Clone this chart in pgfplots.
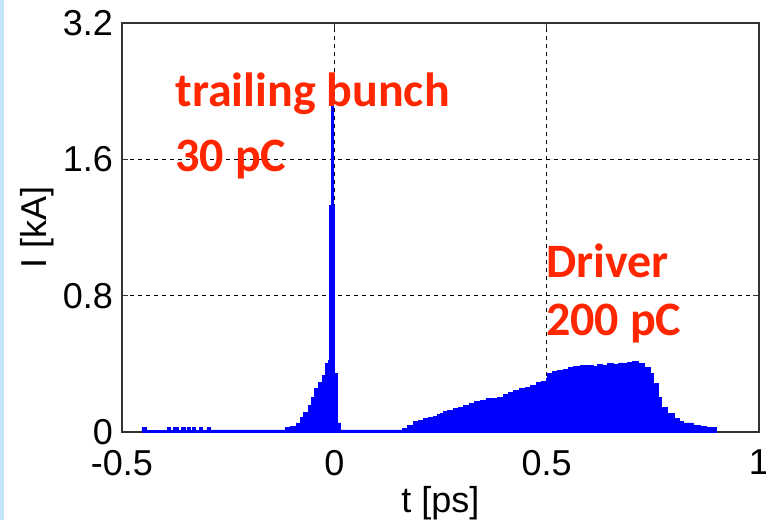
\documentclass[border=0pt]{standalone}
\usepackage{fontspec}
\setmainfont{Liberation Sans}
\newfontfamily\calibri{Carlito}
\usepackage{pgfplots}
\pgfplotsset{compat=1.18}

\definecolor{annot}{RGB}{255,38,0}
\definecolor{slide}{RGB}{196,230,250}

\begin{document}
\begin{tikzpicture}
% page frame: same size as the reference (766x520 px at 2 px per pt)
\useasboundingbox (-61pt,-44pt) rectangle (322pt,216pt);
\fill[slide] (-61pt,-44pt) rectangle (-59pt,216pt);
\begin{axis}[
    scale only axis,
    width=318.5pt, height=204.5pt,
    xmin=-0.5, xmax=1, ymin=0, ymax=2.4,
    xtick={-0.5,0,0.5,1},
    xticklabels={-0.5,0,0.5,1},
    ytick={0,0.8,1.6,2.4},
    yticklabels={0,0.8,1.6,3.2},
    tick align=inside,
    major tick length=3pt,
    tick style={black!80, line width=0.6pt},
    axis line style={black!80, line width=0.8pt},
    grid=major,
    grid style={black, line width=0.6pt, dash pattern=on 2pt off 2pt},
    ticklabel style={font=\fontsize{18}{20}\selectfont},
    xticklabel style={yshift=-5.5pt},
    yticklabel style={xshift=-1pt},
    every axis x label/.style={at={(rel axis cs:0.5,0)}, anchor=center,
        yshift=-35.5pt, font=\fontsize{18}{20}\selectfont},
    % rotated label: yshift moves it left in the page frame
    every axis y label/.style={at={(rel axis cs:0,0.5)}, rotate=90, anchor=center,
        yshift=42.5pt, font=\fontsize{18}{20}\selectfont},
    xlabel={t [ps]},
    ylabel={I [kA]},
    clip=false,
]
% current profile (x in ps, y in kA)
\addplot[draw=blue, fill=blue, line width=0.4pt, const plot mark left] coordinates {
    (-0.453,0.025) (-0.443,0.010) (-0.394,0.025) (-0.387,0.010) (-0.380,0.025)
    (-0.368,0.010) (-0.359,0.025) (-0.351,0.010) (-0.347,0.025) (-0.340,0.010)
    (-0.335,0.025) (-0.328,0.010) (-0.318,0.025) (-0.311,0.010) (-0.300,0.025)
    (-0.292,0.012)
    (-0.116,0.029) (-0.104,0.035) (-0.090,0.053) (-0.080,0.088) (-0.073,0.117)
    (-0.061,0.158) (-0.054,0.204) (-0.047,0.257) (-0.038,0.292) (-0.028,0.333)
    (-0.021,0.403) (-0.014,0.420) (-0.0106,1.331) (-0.0071,1.909) (-0.0024,1.331)
    (0.000,0.344) (0.0071,0.053) (0.0142,0.012)
    (0.160,0.023) (0.172,0.041) (0.186,0.064) (0.198,0.070) (0.210,0.082)
    (0.222,0.088) (0.233,0.093) (0.242,0.105) (0.250,0.111) (0.258,0.120)
    (0.267,0.128) (0.280,0.140) (0.292,0.146) (0.304,0.158) (0.318,0.170)
    (0.331,0.181) (0.344,0.187) (0.357,0.199) (0.370,0.196) (0.384,0.204)
    (0.398,0.222) (0.410,0.234) (0.422,0.245) (0.436,0.257) (0.450,0.263)
    (0.462,0.274) (0.475,0.292) (0.488,0.298) (0.500,0.315) (0.502,0.345)
    (0.514,0.356) (0.526,0.362) (0.540,0.368) (0.552,0.380) (0.564,0.385)
    (0.580,0.391) (0.597,0.391) (0.610,0.385) (0.620,0.397) (0.632,0.391)
    (0.644,0.403) (0.658,0.397) (0.670,0.405) (0.680,0.403) (0.691,0.409)
    (0.703,0.415) (0.715,0.403) (0.729,0.380) (0.745,0.345) (0.752,0.286)
    (0.762,0.204) (0.769,0.146) (0.785,0.111) (0.800,0.082) (0.812,0.064)
    (0.823,0.053) (0.845,0.041) (0.863,0.035) (0.875,0.029) (0.899,0.0)
} \closedcycle;
\node[anchor=base west, text=annot, font=\calibri\bfseries\fontsize{24}{26}\selectfont, inner sep=0pt]
    at (axis cs:-0.375,1.909) {trailing bunch};
\node[anchor=base west, text=annot, font=\calibri\bfseries\fontsize{24}{26}\selectfont, inner sep=0pt]
    at (axis cs:-0.375,1.530) {30 pC};
\node[anchor=base west, text=annot, font=\calibri\bfseries\fontsize{24}{26}\selectfont, inner sep=0pt]
    at (axis cs:0.498,0.905) {Driver};
\node[anchor=base west, text=annot, font=\calibri\bfseries\fontsize{24}{26}\selectfont, inner sep=0pt]
    at (axis cs:0.498,0.566) {200 pC};
\end{axis}
\end{tikzpicture}
\end{document}
